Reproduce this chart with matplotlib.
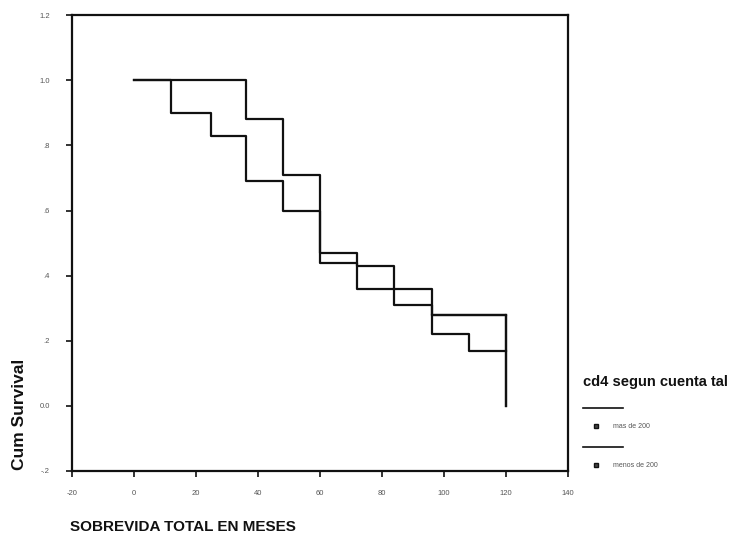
import matplotlib

matplotlib.use("Agg")
import matplotlib.pyplot as plt  # noqa: E402

# Kaplan-Meier steps (months, cumulative survival)
months_a = [0, 12, 25, 36, 48, 60, 72, 84, 96, 108, 120]
surv_a = [1.0, 0.90, 0.83, 0.69, 0.60, 0.44, 0.36, 0.31, 0.22, 0.17, 0.17]

months_b = [0, 36, 48, 60, 72, 84, 96, 120]
surv_b = [1.0, 0.88, 0.71, 0.47, 0.43, 0.36, 0.28, 0.0]

x_ticks = [-20, 0, 20, 40, 60, 80, 100, 120, 140]
y_ticks = [-0.2, 0.0, 0.2, 0.4, 0.6, 0.8, 1.0, 1.2]
y_labels = ["-.2", "0.0", ".2", ".4", ".6", ".8", "1.0", "1.2"]
legend_title = "cd4 segun cuenta tal"
group_names = ["mas de 200", "menos de 200"]

INK = "#111111"

plt.rcParams.update({"font.family": ["Liberation Sans", "DejaVu Sans"]})
fig = plt.figure(figsize=(7.31, 5.43), dpi=100)
fig.patch.set_facecolor("white")
ax = fig.add_axes([0.0985, 0.1326, 0.6785, 0.8394])

ax.step(months_a, surv_a, where="post", color=INK, lw=1.6)
ax.step(months_b, surv_b, where="post", color=INK, lw=1.6)
# final drop of the second group down to zero at 120
ax.plot([months_b[-2], months_b[-1]], [surv_b[-2], surv_b[-2]], color=INK, lw=1.6)
ax.plot([months_b[-1], months_b[-1]], [surv_b[-2], surv_b[-1]], color=INK, lw=1.6)

ax.set_xlim(-20, 140)
ax.set_ylim(-0.2, 1.2)
ax.set_xticks(x_ticks)
ax.set_xticklabels([str(v) for v in x_ticks])
ax.set_yticks(y_ticks)
ax.set_yticklabels(y_labels)
ax.tick_params(direction="out", length=4, width=1.2, labelsize=5.5,
               labelcolor="#555555", color=INK)
ax.tick_params(axis="x", pad=10)
ax.tick_params(axis="y", pad=12)
for sp in ax.spines.values():
    sp.set_linewidth(1.6)
    sp.set_color(INK)

fig.text(0.026, 0.134, "Cum Survival", rotation=90, fontsize=12.5,
         fontweight="bold", color=INK, ha="center", va="bottom")
fig.text(0.096, 0.03, "SOBREVIDA TOTAL EN MESES", fontsize=11,
         fontweight="bold", color=INK, ha="left", va="center")

# legend, SPSS style
fig.text(0.797, 0.297, legend_title, fontsize=10.5, fontweight="bold",
         color=INK, ha="left", va="center")
for i, name in enumerate(group_names):
    yl = 0.249 - i * 0.072
    fig.add_artist(plt.Line2D([0.797, 0.852], [yl, yl], color=INK, lw=1.2))
    fig.add_artist(plt.Line2D([0.815], [yl - 0.034], marker="s", ms=3.5,
                              mfc="#444444", mec=INK, mew=1.0))
    fig.text(0.838, yl - 0.034, name, fontsize=5, color="#555555",
             ha="left", va="center")

fig.savefig("out.png", dpi=100, facecolor="white")
